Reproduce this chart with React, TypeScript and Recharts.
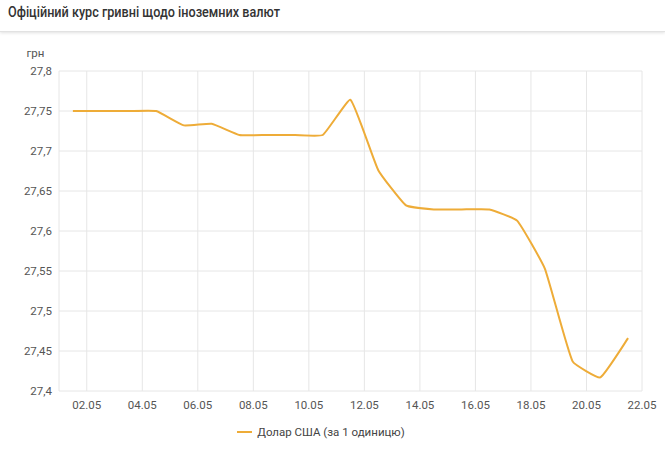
import React from "react";
import {
  LineChart,
  Line,
  XAxis,
  YAxis,
  CartesianGrid,
  Legend,
} from "recharts";

// курс НБУ, травень
const days = [1, 2, 3, 4, 5, 6, 7, 8, 9, 10, 11, 12, 13, 14, 15, 16, 17, 18, 19, 20, 21];
const usdRate = [
  27.75, 27.75, 27.75, 27.75, 27.732, 27.734, 27.72, 27.72, 27.72, 27.72, 27.764,
  27.676, 27.632, 27.627, 27.627, 27.627, 27.613, 27.553, 27.437, 27.417, 27.466,
];
const xTicks = [2, 4, 6, 8, 10, 12, 14, 16, 18, 20, 22];
const yTicks = [27.4, 27.45, 27.5, 27.55, 27.6, 27.65, 27.7, 27.75, 27.8];
const title = "Офіційний курс гривні щодо іноземних валют";
const seriesName = "Долар США (за 1 одиницю)";

// points sit at midday of each date
const data = days.map((d, i) => ({ x: d + 0.5, usd: usdRate[i] }));

const fmtDay = (v: number) => `${String(v).padStart(2, "0")}.05`;
const fmtRate = (v: number) => String(Number(v.toFixed(2))).replace(".", ",");

const LINE_COLOR = "#eeac38";
const FONT = "Roboto, 'Noto Sans', sans-serif";
const TICK = { fill: "#555", fontSize: 11.5, fontFamily: FONT };

// low-tension spline, control points weighted by segment length
function tensionSpline(tension: number) {
  return (ctx: any) => {
    let pts: [number, number][] = [];
    return {
      areaStart() {},
      areaEnd() {},
      lineStart() {
        pts = [];
      },
      point(x: number, y: number) {
        pts.push([+x, +y]);
      },
      lineEnd() {
        if (!pts.length) return;
        ctx.moveTo(pts[0][0], pts[0][1]);
        const before: [number, number][] = [];
        const after: [number, number][] = [];
        pts.forEach((cur, i) => {
          const prev = pts[i - 1] || cur;
          const next = pts[i + 1] || cur;
          const d01 = Math.hypot(cur[0] - prev[0], cur[1] - prev[1]);
          const d12 = Math.hypot(next[0] - cur[0], next[1] - cur[1]);
          const sum = d01 + d12 || 1;
          const fa = (tension * d01) / sum;
          const fb = (tension * d12) / sum;
          const dx = next[0] - prev[0];
          const dy = next[1] - prev[1];
          before.push([cur[0] - fa * dx, cur[1] - fa * dy]);
          after.push([cur[0] + fb * dx, cur[1] + fb * dy]);
        });
        for (let i = 1; i < pts.length; i++) {
          const a = after[i - 1];
          const b = before[i];
          ctx.bezierCurveTo(a[0], a[1], b[0], b[1], pts[i][0], pts[i][1]);
        }
      },
    };
  };
}

function LegendContent() {
  return (
    <div
      style={{
        height: 22,
        display: "flex",
        alignItems: "center",
        justifyContent: "center",
        fontFamily: FONT,
        fontSize: 11.5,
        color: "#444",
      }}
    >
      <span
        style={{
          display: "inline-block",
          width: 15,
          height: 2,
          background: LINE_COLOR,
          marginRight: 5,
        }}
      />
      {seriesName}
    </div>
  );
}

export default function App() {
  return (
    <div
      style={{
        position: "absolute",
        top: 0,
        left: 0,
        width: 665,
        height: 452,
        background: "#fff",
        overflow: "hidden",
        fontFamily: FONT,
      }}
    >
      <div
        style={{
          position: "absolute",
          top: 0,
          left: 0,
          width: 665,
          height: 31,
          borderBottom: "1px solid #e2e2e2",
          boxShadow: "0 1px 3px rgba(0,0,0,0.12)",
          background: "#fff",
          zIndex: 2,
        }}
      >
        <svg width={665} height={31} style={{ display: "block" }}>
          <text
            x={8}
            y={16.5}
            fontFamily={FONT}
            fontSize={14.3}
            fontWeight={500}
            fill="#333"
            textLength={272}
            lengthAdjust="spacingAndGlyphs"
          >
            {title}
          </text>
        </svg>
      </div>
      <div style={{ position: "absolute", top: 0, left: 0 }}>
        <LineChart
          width={665}
          height={452}
          data={data}
          margin={{ top: 71, right: 23, left: 0, bottom: 9 }}
        >
          <CartesianGrid stroke="#e6e6e6" />
          <XAxis
            type="number"
            dataKey="x"
            domain={[1, 22]}
            ticks={xTicks}
            tickFormatter={fmtDay}
            axisLine={false}
            tickLine={false}
            tick={TICK}
            tickMargin={4}
          />
          <YAxis
            width={59}
            domain={[27.4, 27.8]}
            ticks={yTicks}
            tickFormatter={fmtRate}
            axisLine={false}
            tickLine={false}
            tick={TICK}
            tickMargin={1}
            label={{
              value: "грн",
              position: "top",
              offset: 14,
              dx: 6,
              fill: "#555",
              fontSize: 11.5,
              fontFamily: FONT,
            }}
          />
          <Legend verticalAlign="bottom" content={<LegendContent />} />
          <Line
            type={tensionSpline(0.12) as any}
            dataKey="usd"
            name={seriesName}
            stroke={LINE_COLOR}
            strokeWidth={2}
            dot={false}
            isAnimationActive={false}
          />
        </LineChart>
      </div>
    </div>
  );
}
